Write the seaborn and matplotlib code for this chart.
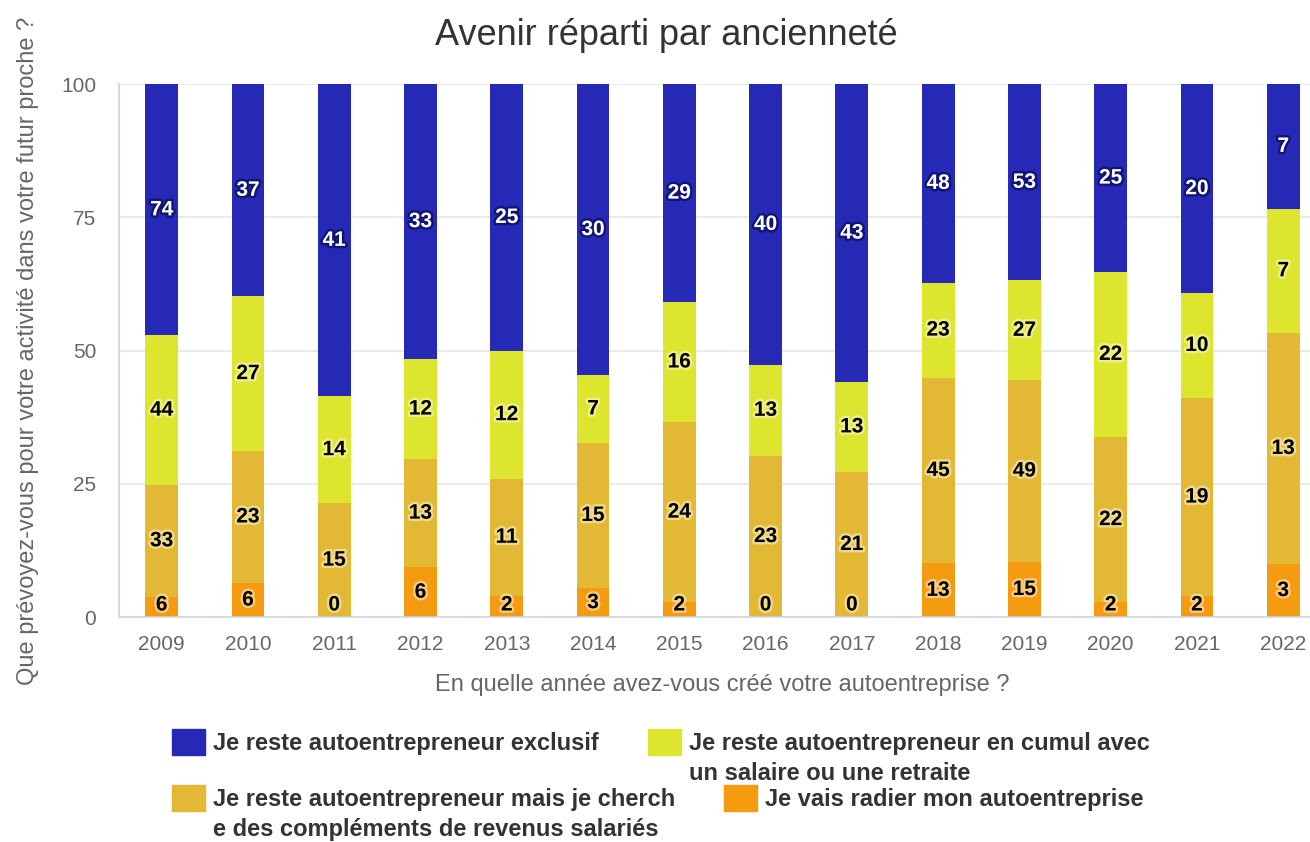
import numpy as np
import pandas as pd
import matplotlib
matplotlib.use("Agg")
import matplotlib.pyplot as plt
import matplotlib.patheffects as pe
from matplotlib.patches import Rectangle
import seaborn as sns

# ---- données (nombre de réponses par année de création) ----
annees = ['2009', '2010', '2011', '2012', '2013', '2014', '2015',
          '2016', '2017', '2018', '2019', '2020', '2021', '2022']
exclusif = [74, 37, 41, 33, 25, 30, 29, 40, 43, 48, 53, 25, 20, 7]
cumul = [44, 27, 14, 12, 12, 7, 16, 13, 13, 23, 27, 22, 10, 7]
complements = [33, 23, 15, 13, 11, 15, 24, 23, 21, 45, 49, 22, 19, 13]
radier = [6, 6, 0, 6, 2, 3, 2, 0, 0, 13, 15, 2, 2, 3]

series = ['Je reste autoentrepreneur exclusif',
          'Je reste autoentrepreneur en cumul avec\nun salaire ou une retraite',
          'Je reste autoentrepreneur mais je cherch\ne des compléments de revenus salariés',
          'Je vais radier mon autoentreprise']
couleurs = ['#2529b6', '#dee52e', '#e3b835', '#f59b12']

sns.set_theme(style='white')
plt.rcParams['font.family'] = ['Liberation Sans', 'DejaVu Sans']

df = pd.DataFrame({'annee': annees, 'exclusif': exclusif, 'cumul': cumul,
                   'complements': complements, 'radier': radier})
cols = ['exclusif', 'cumul', 'complements', 'radier']
total = df[cols].sum(axis=1)
pct = df[cols].div(total, axis=0) * 100

# empilement du bas vers le haut : radier, complements, cumul, exclusif
ordre_bas = ['radier', 'complements', 'cumul', 'exclusif']
cum = pct[ordre_bas].cumsum(axis=1)

fig = plt.figure(figsize=(13.1, 8.42), dpi=100)
ax = fig.add_axes([0.0905, 0.267, 0.922, 0.633])

# on dessine les cumuls du plus grand au plus petit
for col in reversed(ordre_bas):
    c = couleurs[cols.index(col)]
    sns.barplot(x=df['annee'], y=cum[col], color=c, width=0.38,
                saturation=1, ax=ax, edgecolor='none', linewidth=0)

# étiquettes
for i in range(len(annees)):
    bas = 0
    for col in ordre_bas:
        h = pct.loc[i, col]
        centre = max(bas + h / 2, 2.3)
        if col == 'exclusif':
            coul, halo = 'white', '#000033'
        else:
            coul, halo = 'black', '#fffbe0'
        ax.text(i, centre, str(df.loc[i, col]), ha='center', va='center',
                fontsize=15, fontweight='bold', color=coul,
                path_effects=[pe.withStroke(linewidth=3.5, foreground=halo, alpha=0.5)])
        bas += h

ax.set_xlim(-0.5, len(annees) - 0.5)
ax.set_ylim(0, 100)
ax.set_yticks([0, 25, 50, 75, 100])
ax.yaxis.grid(True, color='#e6e6e6', linewidth=1.2)
ax.set_axisbelow(True)
for s in ['top', 'right']:
    ax.spines[s].set_visible(False)
ax.spines['left'].set_color('#ccd6eb')
ax.spines['bottom'].set_color('#ccd6eb')
ax.spines['bottom'].set_linewidth(1.2)

ax.set_xticks(np.arange(len(annees)))
ax.set_xticklabels(annees)
ax.set_xticks(np.arange(len(annees) + 1) - 0.5, minor=True)
ax.tick_params(axis='x', which='major', length=0, pad=13, labelsize=15, labelcolor='#666666')
ax.tick_params(axis='x', which='minor', length=11, color='#ccd6eb', width=1.2)
ax.tick_params(axis='y', length=0, pad=16, labelsize=15, labelcolor='#666666')

ax.set_xlabel('En quelle année avez-vous créé votre autoentreprise ?',
              fontsize=17, color='#666666', labelpad=14)
ax.set_ylabel('Que prévoyez-vous pour votre activité dans votre futur proche ?',
              fontsize=17, color='#666666', labelpad=16)

fig.text(0.509, 0.958, 'Avenir réparti par ancienneté', ha='center', va='center',
         fontsize=26, color='#333333')

# légende manuelle sur deux colonnes
pos = [(172, 742), (648, 742), (172, 798), (724, 798)]
for (px, py), lab, c in zip(pos, series, couleurs):
    x0 = px / 1310
    y0 = 1 - py / 842
    fig.patches.append(Rectangle((x0, y0 - 13 / 842), 33 / 1310, 26 / 842,
                                 transform=fig.transFigure, color=c, figure=fig))
    fig.text(x0 + 41 / 1310, y0 + 10 / 842, lab, ha='left', va='top',
             fontsize=17, fontweight='bold', color='#333333', linespacing=1.38)

fig.savefig('out.png', dpi=100)
